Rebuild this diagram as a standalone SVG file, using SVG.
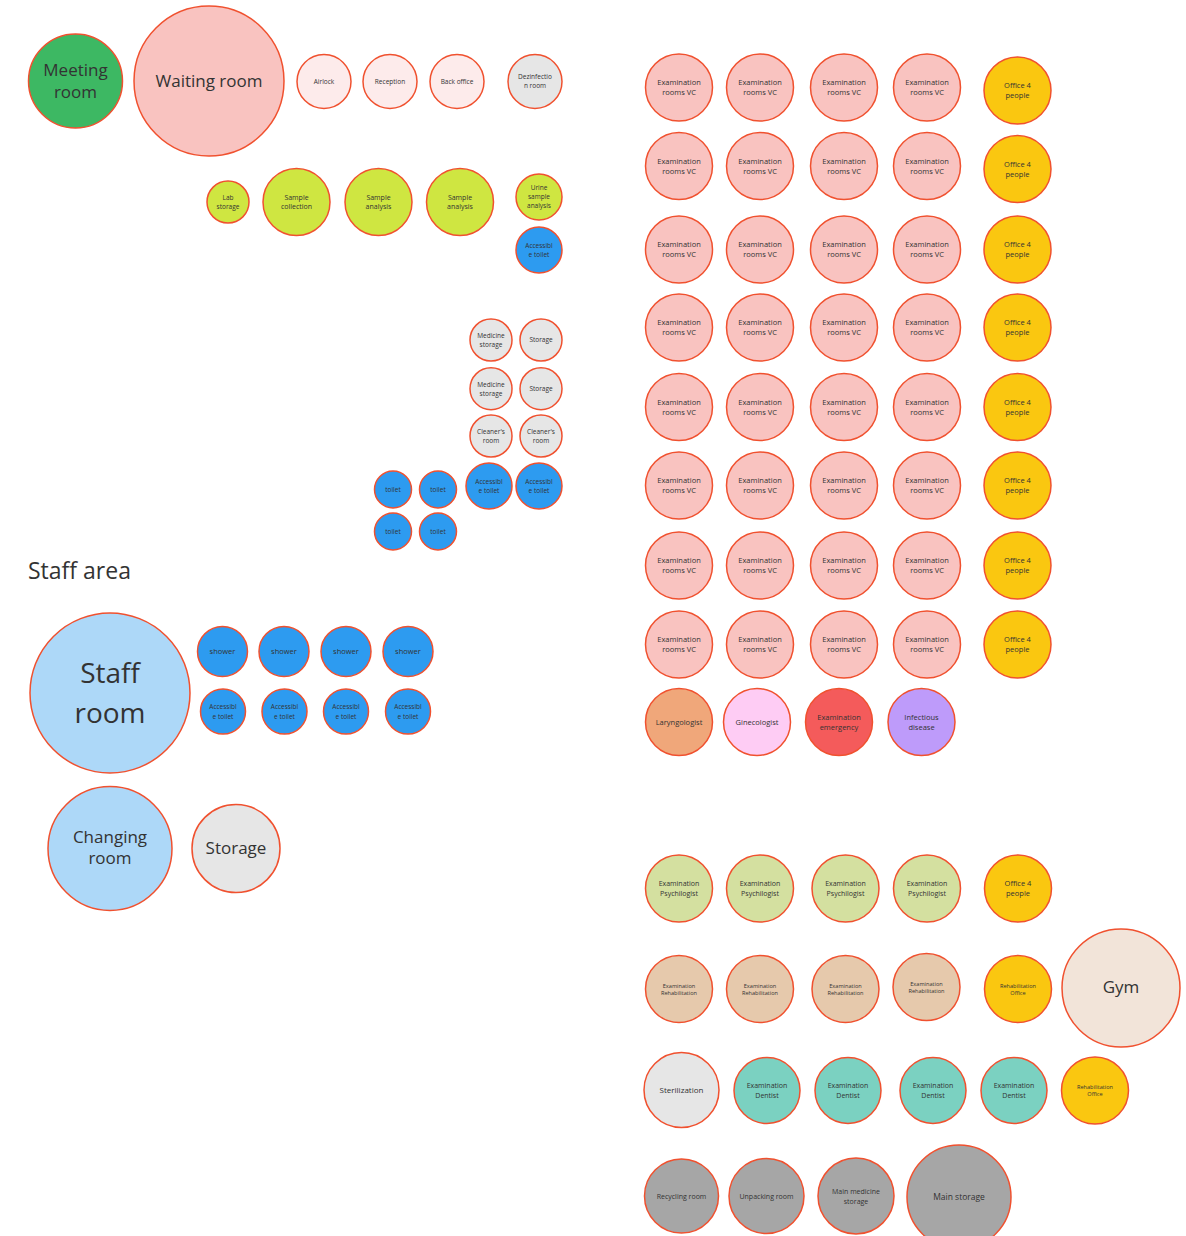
<svg xmlns="http://www.w3.org/2000/svg" width="1186" height="1236" viewBox="0 0 1186 1236">
<style>
circle{stroke:#F0512F;stroke-width:1.5}
text{font-family:"Open Sans","Noto Sans","Liberation Sans",sans-serif;fill:#333;text-anchor:middle}
.green{fill:#3DB863}.pink{fill:#F9C3C0}.lpink{fill:#FDEBEB}.grey{fill:#E6E6E6}.lime{fill:#CFE641}
.blue{fill:#2D9BF0}.lblue{fill:#ADD8F8}.yellow{fill:#FAC710}.laryn{fill:#F0A77A}.gine{fill:#FECCF4}
.emer{fill:#F45B5B}.infe{fill:#BE9BFA}.psy{fill:#D4E0A0}.reh{fill:#E6C9AC}.gym{fill:#F2E4D9}
.dent{fill:#7BD1C1}.dgrey{fill:#A6A6A6}
.f17{font-size:17px}.f8{font-size:8px}.f75{font-size:7.5px}.f7{font-size:7px}.f65{font-size:6.5px}.f56{font-size:5.6px}
.title{font-size:23px;text-anchor:start}
</style>
<g id="connectors"/>

<g id="meeting-room"><circle class="green" cx="75.5" cy="81" r="47"/><text class="f17"><tspan x="75.5" y="76">Meeting</tspan><tspan x="75.5" y="98">room</tspan></text></g>
<g id="waiting-room"><circle class="pink" cx="209" cy="81" r="75"/><text class="f17" x="209" y="87">Waiting room</text></g>
<g id="airlock"><circle class="lpink" cx="324" cy="81.5" r="27"/><text class="f65" x="324" y="83.8">Airlock</text></g>
<g id="reception"><circle class="lpink" cx="390" cy="81.5" r="27"/><text class="f65" x="390" y="83.8">Reception</text></g>
<g id="back-office"><circle class="lpink" cx="457" cy="81.5" r="27"/><text class="f65" x="457" y="83.8">Back office</text></g>
<g id="dezinfection-room"><circle class="grey" cx="535" cy="81.5" r="27"/><text class="f65"><tspan x="535" y="79.3">Dezinfectio</tspan><tspan x="535" y="88.3">n room</tspan></text></g>

<g id="lab-storage"><circle class="lime" cx="228" cy="202" r="21"/><text class="f65"><tspan x="228" y="199.8">Lab</tspan><tspan x="228" y="208.8">storage</tspan></text></g>
<g id="sample-collection"><circle class="lime" cx="296.5" cy="202" r="33.5"/><text class="f7"><tspan x="296.5" y="199.8">Sample</tspan><tspan x="296.5" y="209.3">collection</tspan></text></g>
<g id="sample-analysis-1"><circle class="lime" cx="378.5" cy="202" r="33.5"/><text class="f7"><tspan x="378.5" y="199.8">Sample</tspan><tspan x="378.5" y="209.3">analysis</tspan></text></g>
<g id="sample-analysis-2"><circle class="lime" cx="460" cy="202" r="33.5"/><text class="f7"><tspan x="460" y="199.8">Sample</tspan><tspan x="460" y="209.3">analysis</tspan></text></g>
<g id="urine-sample-analysis"><circle class="lime" cx="539" cy="197" r="23"/><text class="f65"><tspan x="539" y="190.3">Urine</tspan><tspan x="539" y="199.3">sample</tspan><tspan x="539" y="208.3">analysis</tspan></text></g>
<g id="accessible-toilet-lab"><circle class="blue" cx="539" cy="250" r="23"/><text class="f65"><tspan x="539" y="247.8">Accessibl</tspan><tspan x="539" y="256.8">e toilet</tspan></text></g>

<g id="medicine-storage-1"><circle class="grey" cx="491" cy="340" r="21"/><text class="f65"><tspan x="491" y="337.9">Medicine</tspan><tspan x="491" y="346.9">storage</tspan></text></g>
<g id="storage-1"><circle class="grey" cx="541" cy="340" r="21"/><text class="f65" x="541" y="342.4">Storage</text></g>
<g id="medicine-storage-2"><circle class="grey" cx="491" cy="388.7" r="21"/><text class="f65"><tspan x="491" y="386.6">Medicine</tspan><tspan x="491" y="395.6">storage</tspan></text></g>
<g id="storage-2"><circle class="grey" cx="541" cy="388.7" r="21"/><text class="f65" x="541" y="391.1">Storage</text></g>
<g id="cleaners-room-1"><circle class="grey" cx="491" cy="436" r="21"/><text class="f65"><tspan x="491" y="433.9">Cleaner's</tspan><tspan x="491" y="442.9">room</tspan></text></g>
<g id="cleaners-room-2"><circle class="grey" cx="541" cy="436" r="21"/><text class="f65"><tspan x="541" y="433.9">Cleaner's</tspan><tspan x="541" y="442.9">room</tspan></text></g>
<g id="accessible-toilet-1"><circle class="blue" cx="489" cy="486" r="23"/><text class="f65"><tspan x="489" y="483.9">Accessibl</tspan><tspan x="489" y="492.9">e toilet</tspan></text></g>
<g id="accessible-toilet-2"><circle class="blue" cx="539" cy="486" r="23"/><text class="f65"><tspan x="539" y="483.9">Accessibl</tspan><tspan x="539" y="492.9">e toilet</tspan></text></g>
<g id="toilet-1"><circle class="blue" cx="393" cy="489.5" r="18.5"/><text class="f65" x="393" y="491.8">toilet</text></g>
<g id="toilet-2"><circle class="blue" cx="438" cy="489.5" r="18.5"/><text class="f65" x="438" y="491.8">toilet</text></g>
<g id="toilet-3"><circle class="blue" cx="393" cy="531.5" r="18.5"/><text class="f65" x="393" y="533.8">toilet</text></g>
<g id="toilet-4"><circle class="blue" cx="438" cy="531.5" r="18.5"/><text class="f65" x="438" y="533.8">toilet</text></g>

<text class="title" x="28" y="579">Staff area</text>
<g id="staff-room"><circle class="lblue" cx="110" cy="693" r="80"/><text style="font-size:28px"><tspan x="110" y="683">Staff</tspan><tspan x="110" y="723">room</tspan></text></g>
<g id="changing-room"><circle class="lblue" cx="110" cy="848.5" r="62"/><text class="f17"><tspan x="110" y="843">Changing</tspan><tspan x="110" y="864">room</tspan></text></g>
<g id="staff-storage"><circle class="grey" cx="236" cy="848.5" r="44"/><text class="f17" x="236" y="854">Storage</text></g>
<g id="shower-1"><circle class="blue" cx="222.5" cy="651.5" r="25"/><text class="f75" x="222.5" y="654.2">shower</text></g>
<g id="shower-2"><circle class="blue" cx="284" cy="651.5" r="25"/><text class="f75" x="284" y="654.2">shower</text></g>
<g id="shower-3"><circle class="blue" cx="346" cy="651.5" r="25"/><text class="f75" x="346" y="654.2">shower</text></g>
<g id="shower-4"><circle class="blue" cx="408" cy="651.5" r="25"/><text class="f75" x="408" y="654.2">shower</text></g>
<g id="staff-toilet-1"><circle class="blue" cx="223" cy="711.5" r="22.5"/><text class="f65"><tspan x="223" y="708.9">Accessibl</tspan><tspan x="223" y="718.9">e toilet</tspan></text></g>
<g id="staff-toilet-2"><circle class="blue" cx="284.5" cy="711.5" r="22.5"/><text class="f65"><tspan x="284.5" y="708.9">Accessibl</tspan><tspan x="284.5" y="718.9">e toilet</tspan></text></g>
<g id="staff-toilet-3"><circle class="blue" cx="346" cy="711.5" r="22.5"/><text class="f65"><tspan x="346" y="708.9">Accessibl</tspan><tspan x="346" y="718.9">e toilet</tspan></text></g>
<g id="staff-toilet-4"><circle class="blue" cx="408" cy="711.5" r="22.5"/><text class="f65"><tspan x="408" y="708.9">Accessibl</tspan><tspan x="408" y="718.9">e toilet</tspan></text></g>

<!-- Examination rooms VC grid -->
<g id="exam-r1c1"><circle class="pink" cx="679" cy="87.5" r="33.5"/><text class="f75"><tspan x="679" y="85.2">Examination</tspan><tspan x="679" y="95.2">rooms VC</tspan></text></g>
<g id="exam-r1c2"><circle class="pink" cx="760" cy="87.5" r="33.5"/><text class="f75"><tspan x="760" y="85.2">Examination</tspan><tspan x="760" y="95.2">rooms VC</tspan></text></g>
<g id="exam-r1c3"><circle class="pink" cx="844" cy="87.5" r="33.5"/><text class="f75"><tspan x="844" y="85.2">Examination</tspan><tspan x="844" y="95.2">rooms VC</tspan></text></g>
<g id="exam-r1c4"><circle class="pink" cx="927" cy="87.5" r="33.5"/><text class="f75"><tspan x="927" y="85.2">Examination</tspan><tspan x="927" y="95.2">rooms VC</tspan></text></g>
<g id="office-r1"><circle class="yellow" cx="1017.5" cy="90.5" r="33.5"/><text class="f75"><tspan x="1017.5" y="88.2">Office 4</tspan><tspan x="1017.5" y="98.2">people</tspan></text></g>

<g id="exam-r2c1"><circle class="pink" cx="679" cy="166" r="33.5"/><text class="f75"><tspan x="679" y="163.7">Examination</tspan><tspan x="679" y="173.7">rooms VC</tspan></text></g>
<g id="exam-r2c2"><circle class="pink" cx="760" cy="166" r="33.5"/><text class="f75"><tspan x="760" y="163.7">Examination</tspan><tspan x="760" y="173.7">rooms VC</tspan></text></g>
<g id="exam-r2c3"><circle class="pink" cx="844" cy="166" r="33.5"/><text class="f75"><tspan x="844" y="163.7">Examination</tspan><tspan x="844" y="173.7">rooms VC</tspan></text></g>
<g id="exam-r2c4"><circle class="pink" cx="927" cy="166" r="33.5"/><text class="f75"><tspan x="927" y="163.7">Examination</tspan><tspan x="927" y="173.7">rooms VC</tspan></text></g>
<g id="office-r2"><circle class="yellow" cx="1017.5" cy="169" r="33.5"/><text class="f75"><tspan x="1017.5" y="166.7">Office 4</tspan><tspan x="1017.5" y="176.7">people</tspan></text></g>

<g id="exam-r3c1"><circle class="pink" cx="679" cy="249.5" r="33.5"/><text class="f75"><tspan x="679" y="247.2">Examination</tspan><tspan x="679" y="257.2">rooms VC</tspan></text></g>
<g id="exam-r3c2"><circle class="pink" cx="760" cy="249.5" r="33.5"/><text class="f75"><tspan x="760" y="247.2">Examination</tspan><tspan x="760" y="257.2">rooms VC</tspan></text></g>
<g id="exam-r3c3"><circle class="pink" cx="844" cy="249.5" r="33.5"/><text class="f75"><tspan x="844" y="247.2">Examination</tspan><tspan x="844" y="257.2">rooms VC</tspan></text></g>
<g id="exam-r3c4"><circle class="pink" cx="927" cy="249.5" r="33.5"/><text class="f75"><tspan x="927" y="247.2">Examination</tspan><tspan x="927" y="257.2">rooms VC</tspan></text></g>
<g id="office-r3"><circle class="yellow" cx="1017.5" cy="249.5" r="33.5"/><text class="f75"><tspan x="1017.5" y="247.2">Office 4</tspan><tspan x="1017.5" y="257.2">people</tspan></text></g>

<g id="exam-r4c1"><circle class="pink" cx="679" cy="327.5" r="33.5"/><text class="f75"><tspan x="679" y="325.2">Examination</tspan><tspan x="679" y="335.2">rooms VC</tspan></text></g>
<g id="exam-r4c2"><circle class="pink" cx="760" cy="327.5" r="33.5"/><text class="f75"><tspan x="760" y="325.2">Examination</tspan><tspan x="760" y="335.2">rooms VC</tspan></text></g>
<g id="exam-r4c3"><circle class="pink" cx="844" cy="327.5" r="33.5"/><text class="f75"><tspan x="844" y="325.2">Examination</tspan><tspan x="844" y="335.2">rooms VC</tspan></text></g>
<g id="exam-r4c4"><circle class="pink" cx="927" cy="327.5" r="33.5"/><text class="f75"><tspan x="927" y="325.2">Examination</tspan><tspan x="927" y="335.2">rooms VC</tspan></text></g>
<g id="office-r4"><circle class="yellow" cx="1017.5" cy="327.5" r="33.5"/><text class="f75"><tspan x="1017.5" y="325.2">Office 4</tspan><tspan x="1017.5" y="335.2">people</tspan></text></g>

<g id="exam-r5c1"><circle class="pink" cx="679" cy="407" r="33.5"/><text class="f75"><tspan x="679" y="404.7">Examination</tspan><tspan x="679" y="414.7">rooms VC</tspan></text></g>
<g id="exam-r5c2"><circle class="pink" cx="760" cy="407" r="33.5"/><text class="f75"><tspan x="760" y="404.7">Examination</tspan><tspan x="760" y="414.7">rooms VC</tspan></text></g>
<g id="exam-r5c3"><circle class="pink" cx="844" cy="407" r="33.5"/><text class="f75"><tspan x="844" y="404.7">Examination</tspan><tspan x="844" y="414.7">rooms VC</tspan></text></g>
<g id="exam-r5c4"><circle class="pink" cx="927" cy="407" r="33.5"/><text class="f75"><tspan x="927" y="404.7">Examination</tspan><tspan x="927" y="414.7">rooms VC</tspan></text></g>
<g id="office-r5"><circle class="yellow" cx="1017.5" cy="407" r="33.5"/><text class="f75"><tspan x="1017.5" y="404.7">Office 4</tspan><tspan x="1017.5" y="414.7">people</tspan></text></g>

<g id="exam-r6c1"><circle class="pink" cx="679" cy="485.5" r="33.5"/><text class="f75"><tspan x="679" y="483.2">Examination</tspan><tspan x="679" y="493.2">rooms VC</tspan></text></g>
<g id="exam-r6c2"><circle class="pink" cx="760" cy="485.5" r="33.5"/><text class="f75"><tspan x="760" y="483.2">Examination</tspan><tspan x="760" y="493.2">rooms VC</tspan></text></g>
<g id="exam-r6c3"><circle class="pink" cx="844" cy="485.5" r="33.5"/><text class="f75"><tspan x="844" y="483.2">Examination</tspan><tspan x="844" y="493.2">rooms VC</tspan></text></g>
<g id="exam-r6c4"><circle class="pink" cx="927" cy="485.5" r="33.5"/><text class="f75"><tspan x="927" y="483.2">Examination</tspan><tspan x="927" y="493.2">rooms VC</tspan></text></g>
<g id="office-r6"><circle class="yellow" cx="1017.5" cy="485.5" r="33.5"/><text class="f75"><tspan x="1017.5" y="483.2">Office 4</tspan><tspan x="1017.5" y="493.2">people</tspan></text></g>

<g id="exam-r7c1"><circle class="pink" cx="679" cy="565.5" r="33.5"/><text class="f75"><tspan x="679" y="563.2">Examination</tspan><tspan x="679" y="573.2">rooms VC</tspan></text></g>
<g id="exam-r7c2"><circle class="pink" cx="760" cy="565.5" r="33.5"/><text class="f75"><tspan x="760" y="563.2">Examination</tspan><tspan x="760" y="573.2">rooms VC</tspan></text></g>
<g id="exam-r7c3"><circle class="pink" cx="844" cy="565.5" r="33.5"/><text class="f75"><tspan x="844" y="563.2">Examination</tspan><tspan x="844" y="573.2">rooms VC</tspan></text></g>
<g id="exam-r7c4"><circle class="pink" cx="927" cy="565.5" r="33.5"/><text class="f75"><tspan x="927" y="563.2">Examination</tspan><tspan x="927" y="573.2">rooms VC</tspan></text></g>
<g id="office-r7"><circle class="yellow" cx="1017.5" cy="565.5" r="33.5"/><text class="f75"><tspan x="1017.5" y="563.2">Office 4</tspan><tspan x="1017.5" y="573.2">people</tspan></text></g>

<g id="exam-r8c1"><circle class="pink" cx="679" cy="644.5" r="33.5"/><text class="f75"><tspan x="679" y="642.2">Examination</tspan><tspan x="679" y="652.2">rooms VC</tspan></text></g>
<g id="exam-r8c2"><circle class="pink" cx="760" cy="644.5" r="33.5"/><text class="f75"><tspan x="760" y="642.2">Examination</tspan><tspan x="760" y="652.2">rooms VC</tspan></text></g>
<g id="exam-r8c3"><circle class="pink" cx="844" cy="644.5" r="33.5"/><text class="f75"><tspan x="844" y="642.2">Examination</tspan><tspan x="844" y="652.2">rooms VC</tspan></text></g>
<g id="exam-r8c4"><circle class="pink" cx="927" cy="644.5" r="33.5"/><text class="f75"><tspan x="927" y="642.2">Examination</tspan><tspan x="927" y="652.2">rooms VC</tspan></text></g>
<g id="office-r8"><circle class="yellow" cx="1017.5" cy="644.5" r="33.5"/><text class="f75"><tspan x="1017.5" y="642.2">Office 4</tspan><tspan x="1017.5" y="652.2">people</tspan></text></g>

<g id="laryngologist"><circle class="laryn" cx="679" cy="722" r="33.5"/><text class="f75" x="679" y="724.7">Laryngologist</text></g>
<g id="ginecologist"><circle class="gine" cx="757" cy="722" r="33.5"/><text class="f75" x="757" y="724.7">Ginecologist</text></g>
<g id="examination-emergency"><circle class="emer" cx="839" cy="722" r="33.5"/><text class="f75"><tspan x="839" y="719.7">Examination</tspan><tspan x="839" y="729.7">emergency</tspan></text></g>
<g id="infectious-disease"><circle class="infe" cx="921.5" cy="722" r="33.5"/><text class="f75"><tspan x="921.5" y="719.7">Infectious</tspan><tspan x="921.5" y="729.7">disease</tspan></text></g>

<g id="psych-1"><circle class="psy" cx="679" cy="888.5" r="33.5"/><text class="f7"><tspan x="679" y="886">Examination</tspan><tspan x="679" y="896">Psychilogist</tspan></text></g>
<g id="psych-2"><circle class="psy" cx="760" cy="888.5" r="33.5"/><text class="f7"><tspan x="760" y="886">Examination</tspan><tspan x="760" y="896">Psychilogist</tspan></text></g>
<g id="psych-3"><circle class="psy" cx="845.5" cy="888.5" r="33.5"/><text class="f7"><tspan x="845.5" y="886">Examination</tspan><tspan x="845.5" y="896">Psychilogist</tspan></text></g>
<g id="psych-4"><circle class="psy" cx="927" cy="888.5" r="33.5"/><text class="f7"><tspan x="927" y="886">Examination</tspan><tspan x="927" y="896">Psychilogist</tspan></text></g>
<g id="office-psych"><circle class="yellow" cx="1018" cy="888.5" r="33.5"/><text class="f75"><tspan x="1018" y="886.2">Office 4</tspan><tspan x="1018" y="896.2">people</tspan></text></g>

<g id="rehab-1"><circle class="reh" cx="679" cy="989" r="33.5"/><text class="f56"><tspan x="679" y="987.5">Examination</tspan><tspan x="679" y="994.5">Rehabilitation</tspan></text></g>
<g id="rehab-2"><circle class="reh" cx="760" cy="989" r="33.5"/><text class="f56"><tspan x="760" y="987.5">Examination</tspan><tspan x="760" y="994.5">Rehabilitation</tspan></text></g>
<g id="rehab-3"><circle class="reh" cx="845.5" cy="989" r="33.5"/><text class="f56"><tspan x="845.5" y="987.5">Examination</tspan><tspan x="845.5" y="994.5">Rehabilitation</tspan></text></g>
<g id="rehab-4"><circle class="reh" cx="926.5" cy="987" r="33.5"/><text class="f56"><tspan x="926.5" y="985.5">Examination</tspan><tspan x="926.5" y="992.5">Rehabilitation</tspan></text></g>
<g id="rehab-office-1"><circle class="yellow" cx="1018" cy="989" r="33.5"/><text class="f56"><tspan x="1018" y="987.5">Rehabilitation</tspan><tspan x="1018" y="994.5">Office</tspan></text></g>
<g id="gym"><circle class="gym" cx="1121" cy="988" r="59"/><text class="f17" x="1121" y="993">Gym</text></g>

<g id="sterilization"><circle class="grey" cx="681.5" cy="1090" r="37.5"/><text class="f8" x="681.5" y="1093">Sterilization</text></g>
<g id="dentist-1"><circle class="dent" cx="767" cy="1090.5" r="33"/><text class="f7"><tspan x="767" y="1088">Examination</tspan><tspan x="767" y="1098">Dentist</tspan></text></g>
<g id="dentist-2"><circle class="dent" cx="848" cy="1090.5" r="33"/><text class="f7"><tspan x="848" y="1088">Examination</tspan><tspan x="848" y="1098">Dentist</tspan></text></g>
<g id="dentist-3"><circle class="dent" cx="933" cy="1090.5" r="33"/><text class="f7"><tspan x="933" y="1088">Examination</tspan><tspan x="933" y="1098">Dentist</tspan></text></g>
<g id="dentist-4"><circle class="dent" cx="1014" cy="1090.5" r="33"/><text class="f7"><tspan x="1014" y="1088">Examination</tspan><tspan x="1014" y="1098">Dentist</tspan></text></g>
<g id="rehab-office-2"><circle class="yellow" cx="1095" cy="1090.5" r="33.5"/><text class="f56"><tspan x="1095" y="1089">Rehabilitation</tspan><tspan x="1095" y="1096">Office</tspan></text></g>

<g id="recycling-room"><circle class="dgrey" cx="681.5" cy="1196" r="37"/><text class="f7" x="681.5" y="1198.5">Recycling room</text></g>
<g id="unpacking-room"><circle class="dgrey" cx="766.5" cy="1196" r="37.5"/><text class="f7" x="766.5" y="1198.5">Unpacking room</text></g>
<g id="main-medicine-storage"><circle class="dgrey" cx="856" cy="1196" r="38"/><text class="f7"><tspan x="856" y="1193.5">Main medicine</tspan><tspan x="856" y="1203.5">storage</tspan></text></g>
<g id="main-storage"><circle class="dgrey" cx="959" cy="1197" r="52"/><text style="font-size:8.5px" x="959" y="1200">Main storage</text></g>
</svg>
